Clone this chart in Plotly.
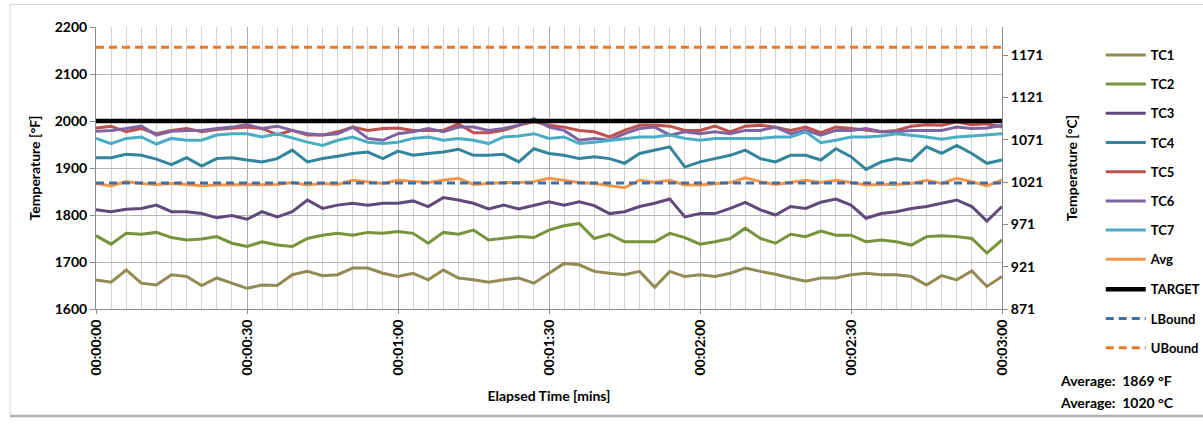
import plotly.graph_objects as go

# Elapsed time in seconds (one reading every 3 s over 3 minutes)
elapsed_s = list(range(0, 181, 3))

tc1 = [1662, 1657, 1683, 1655, 1651, 1673, 1669, 1650, 1666, 1655, 1644, 1651,
       1650, 1673, 1680, 1671, 1673, 1687, 1687, 1676, 1669, 1676, 1662, 1683, 1666,
       1662, 1657, 1662, 1666, 1655, 1676, 1697, 1694, 1680, 1676, 1673, 1680,
       1646, 1680, 1669, 1673, 1669, 1676, 1687, 1680, 1674, 1666, 1659, 1666,
       1666, 1673, 1676, 1673, 1673, 1669, 1651, 1671, 1662, 1681, 1648, 1669]
tc2 = [1756, 1738, 1761, 1759, 1763, 1752, 1747, 1749, 1754, 1740, 1733, 1743,
       1736, 1733, 1750, 1757, 1761, 1757, 1763, 1761, 1765, 1761, 1740, 1763, 1759,
       1768, 1747, 1750, 1754, 1752, 1768, 1777, 1782, 1750, 1759, 1743, 1743,
       1743, 1761, 1752, 1738, 1743, 1750, 1772, 1750, 1740, 1759, 1754, 1766,
       1757, 1757, 1743, 1747, 1743, 1736, 1754, 1756, 1754, 1750, 1719, 1747]
tc3 = [1811, 1807, 1812, 1814, 1821, 1807, 1807, 1803, 1794, 1799, 1791, 1807,
       1796, 1807, 1832, 1814, 1821, 1825, 1821, 1825, 1825, 1830, 1818, 1837, 1832,
       1825, 1813, 1821, 1813, 1821, 1828, 1821, 1828, 1820, 1803, 1807, 1818,
       1825, 1834, 1796, 1803, 1803, 1814, 1827, 1811, 1800, 1818, 1814, 1827,
       1834, 1821, 1793, 1803, 1807, 1814, 1818, 1825, 1832, 1818, 1787, 1818]
tc4 = [1922, 1922, 1929, 1927, 1919, 1907, 1922, 1904, 1920, 1922, 1917, 1913,
       1920, 1938, 1913, 1920, 1925, 1931, 1934, 1920, 1936, 1927, 1931, 1934, 1940,
       1927, 1927, 1929, 1913, 1941, 1931, 1927, 1920, 1924, 1920, 1910, 1931,
       1938, 1945, 1902, 1913, 1920, 1927, 1938, 1920, 1913, 1927, 1927, 1917,
       1941, 1924, 1897, 1913, 1920, 1915, 1945, 1931, 1948, 1931, 1910, 1917]
tc5 = [1985, 1989, 1977, 1984, 1973, 1980, 1984, 1977, 1982, 1985, 1987, 1984,
       1971, 1980, 1970, 1970, 1977, 1987, 1980, 1984, 1985, 1980, 1980, 1980, 1994,
       1975, 1975, 1980, 1991, 1999, 1991, 1987, 1980, 1977, 1966, 1980, 1991,
       1991, 1989, 1980, 1980, 1989, 1977, 1989, 1991, 1987, 1980, 1987, 1975,
       1987, 1984, 1980, 1977, 1980, 1989, 1992, 1991, 1998, 1992, 1994, 1987]
tc6 = [1978, 1980, 1984, 1989, 1970, 1978, 1980, 1980, 1984, 1987, 1992, 1984,
       1989, 1980, 1973, 1970, 1973, 1987, 1963, 1959, 1973, 1977, 1984, 1977, 1987,
       1987, 1980, 1984, 1991, 2005, 1987, 1980, 1959, 1963, 1959, 1973, 1984,
       1987, 1970, 1977, 1973, 1977, 1973, 1980, 1980, 1987, 1973, 1980, 1970,
       1980, 1980, 1984, 1977, 1977, 1980, 1980, 1980, 1987, 1984, 1985, 1991]
tc7 = [1963, 1952, 1963, 1966, 1951, 1963, 1959, 1959, 1970, 1973, 1973, 1966,
       1973, 1964, 1955, 1948, 1959, 1966, 1955, 1952, 1955, 1963, 1966, 1959, 1963,
       1959, 1952, 1966, 1968, 1973, 1963, 1966, 1952, 1955, 1959, 1963, 1966,
       1966, 1970, 1963, 1959, 1963, 1963, 1964, 1963, 1966, 1966, 1977, 1954,
       1959, 1966, 1966, 1968, 1973, 1970, 1966, 1961, 1966, 1968, 1971, 1973]
avg = [1867, 1862, 1871, 1867, 1865, 1867, 1865, 1862, 1864, 1864, 1865, 1865,
       1865, 1869, 1864, 1867, 1865, 1874, 1871, 1867, 1874, 1871, 1869, 1874, 1878,
       1865, 1867, 1869, 1869, 1871, 1878, 1874, 1869, 1867, 1862, 1858, 1874,
       1869, 1874, 1864, 1864, 1867, 1869, 1879, 1871, 1865, 1869, 1874, 1869,
       1874, 1869, 1864, 1865, 1865, 1867, 1874, 1867, 1878, 1871, 1862, 1874]

target_f = 2000
lbound_f = 1868
ubound_f = 2157
average_f = 1869
average_c = 1020

x_tick_vals = [0, 30, 60, 90, 120, 150, 180]
x_tick_text = ["00:00:00", "00:00:30", "00:01:00", "00:01:30",
               "00:02:00", "00:02:30", "00:03:00"]
c_tick_vals = [871, 921, 971, 1021, 1071, 1121, 1171]

series = [
    ("TC1", tc1, "#948A54"),
    ("TC2", tc2, "#77933C"),
    ("TC3", tc3, "#604A7B"),
    ("TC4", tc4, "#31859C"),
    ("TC5", tc5, "#C0504D"),
    ("TC6", tc6, "#8064A2"),
    ("TC7", tc7, "#4BACC6"),
    ("Avg", avg, "#F79646"),
]

FONT = "Lato"
fig = go.Figure()

for name, vals, color in series:
    fig.add_trace(go.Scatter(
        x=elapsed_s, y=vals, name=name, mode="lines", legendgroup=name,
        line=dict(color=color, width=3), legend="legend",
    ))

t_span = [elapsed_s[0], elapsed_s[-1]]
fig.add_trace(go.Scatter(x=t_span, y=[target_f, target_f], name="TARGET", mode="lines",
                         legendgroup="TARGET", legend="legend2",
                         line=dict(color="#000000", width=4.5)))
fig.add_trace(go.Scatter(x=t_span, y=[lbound_f, lbound_f], name="LBound", mode="lines",
                         legendgroup="LBound", legend="legend2",
                         line=dict(color="#3F6FA8", width=3, dash="8px,5px")))
fig.add_trace(go.Scatter(x=t_span, y=[ubound_f, ubound_f], name="UBound", mode="lines",
                         legendgroup="UBound", legend="legend2",
                         line=dict(color="#E8782B", width=3, dash="8px,5px")))

# Celsius companion axis (carries no visible marks)
fig.add_trace(go.Scatter(x=[0], y=[average_c], yaxis="y2", mode="markers",
                         marker=dict(opacity=0), showlegend=False, hoverinfo="skip"))

f_lo, f_hi = 1600, 2200
c_lo, c_hi = 871.0, (f_hi - 32) / 1.8

tick_font = dict(family=FONT, size=14, color="#000000", weight="bold")
title_font = dict(family=FONT, size=14, color="#000000", weight="bold")
legend_font = dict(family=FONT, size=13, color="#000000", weight="bold")
legend_x = 1.109

fig.update_layout(
    width=1203, height=425,
    margin=dict(l=96, r=201, t=27, b=116, autoexpand=False),
    paper_bgcolor="white", plot_bgcolor="white",
    showlegend=True,
    legend=dict(x=legend_x, y=0.954, xanchor="left", yanchor="top", font=legend_font,
                tracegroupgap=9.3, itemwidth=40, bgcolor="rgba(0,0,0,0)"),
    legend2=dict(x=legend_x, y=0.123, xanchor="left", yanchor="top", font=legend_font,
                 tracegroupgap=9.3, itemwidth=40, bgcolor="rgba(0,0,0,0)"),
    xaxis=dict(range=[0, 180], tickmode="array", tickvals=x_tick_vals, ticktext=x_tick_text,
               tickangle=-90, tickfont=tick_font, showgrid=True, gridcolor="#ABABAB",
               gridwidth=1, minor=dict(dtick=3, showgrid=True, gridcolor="#D3D3D3",
                                       ticks="", gridwidth=1),
               showline=True, linecolor="#8C8C8C", ticks="outside", ticklen=4,
               tickcolor="#8C8C8C", zeroline=False,
               title=dict(text="Elapsed Time [mins]", font=title_font, standoff=16)),
    yaxis=dict(range=[f_lo, f_hi], dtick=100, tickfont=tick_font, showgrid=True,
               gridcolor="#B5B5B5", showline=True, linecolor="#8C8C8C", ticks="outside",
               ticklen=5, tickcolor="#8C8C8C", zeroline=False,
               title=dict(text="Temperature [°F]", font=title_font, standoff=10)),
    yaxis2=dict(range=[c_lo, c_hi], overlaying="y", side="right", tickmode="array",
                tickvals=c_tick_vals, ticktext=[str(v) for v in c_tick_vals],
                tickfont=tick_font, showgrid=False, showline=True, linecolor="#8C8C8C",
                ticks="outside", ticklen=5, tickcolor="#8C8C8C", zeroline=False,
                title=dict(text="Temperature [°C]", font=title_font, standoff=24)),
)

# chart frame
fig.add_shape(type="rect", xref="paper", yref="paper",
              x0=(10 - 96) / 906, x1=1.3, y0=(309.5 - 416) / 282, y1=(309.5 - 5) / 282,
              line=dict(color="#D4D4D4", width=1), layer="below")
fig.add_shape(type="line", xref="paper", yref="paper",
              x0=(10 - 96) / 906, x1=1.3, y0=(309.5 - 416.5) / 282, y1=(309.5 - 416.5) / 282,
              line=dict(color="#B0B0B0", width=2.5))

fig.add_annotation(xref="paper", yref="paper", x=(1058 - 96) / 906, y=(309.5 - 381) / 282,
                   xanchor="left", yanchor="middle", showarrow=False,
                   text=f"Average:\u00a0 {average_f} °F",
                   font=dict(family=FONT, size=14, color="#000000", weight="bold"))
fig.add_annotation(xref="paper", yref="paper", x=(1058 - 96) / 906, y=(309.5 - 403) / 282,
                   xanchor="left", yanchor="middle", showarrow=False,
                   text=f"Average:\u00a0 {average_c} °C",
                   font=dict(family=FONT, size=14, color="#000000", weight="bold"))

fig.write_html("out.html")
